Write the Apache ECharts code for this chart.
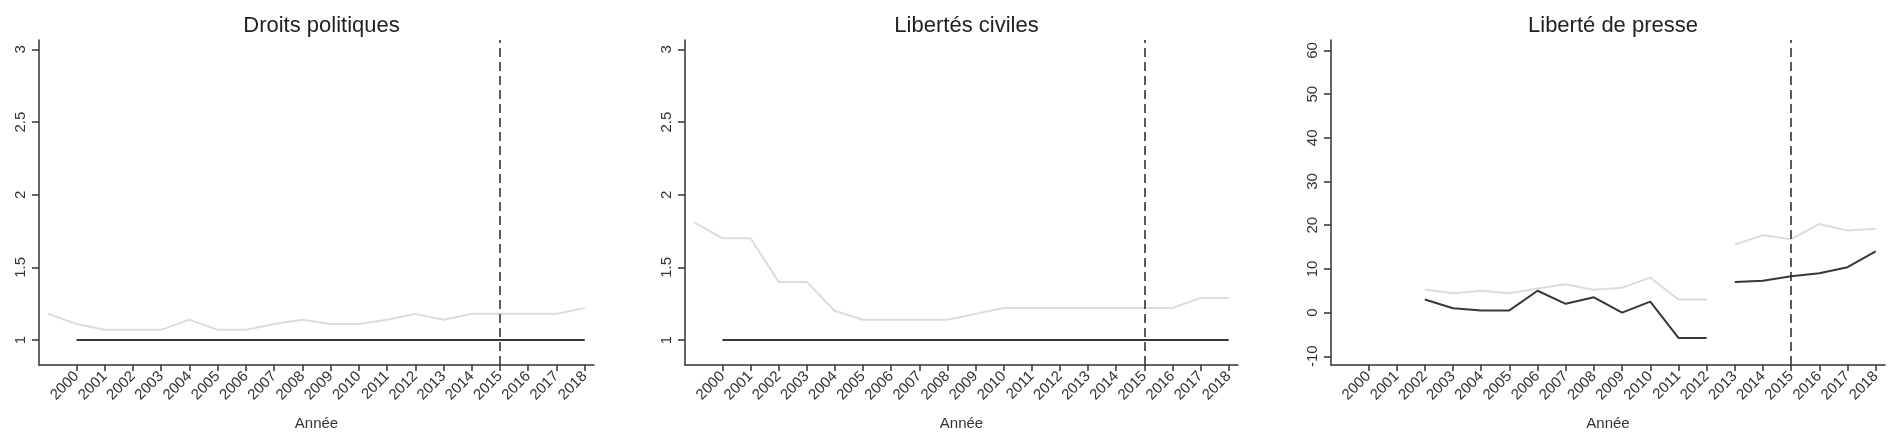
<!DOCTYPE html>
<html>
<head>
<meta charset="utf-8">
<script src="https://cdn.jsdelivr.net/npm/echarts@6/dist/echarts.min.js"></script>
<style>
  html, body { margin: 0; padding: 0; background: #fff; }
  #chart { width: 1893px; height: 447px; }
</style>
</head>
<body>
<div id="chart"></div>
<script>
// années (1999 sert seulement de point de départ de la courbe claire)
const years = [1999, 2000, 2001, 2002, 2003, 2004, 2005, 2006, 2007, 2008, 2009,
  2010, 2011, 2012, 2013, 2014, 2015, 2016, 2017, 2018]
const tickYears = [2000, 2001, 2002, 2003, 2004, 2005, 2006, 2007, 2008, 2009,
  2010, 2011, 2012, 2013, 2014, 2015, 2016, 2017, 2018]
const ratingTicks = [1, 1.5, 2, 2.5, 3]
const pressTicks = [-10, 0, 10, 20, 30, 40, 50, 60]
const titles = ['Droits politiques', 'Libertés civiles', 'Liberté de presse']
const cutYear = 2015
const breakYear = 2013 // la presse n'est pas reliée entre 2012 et 2013

// Droits politiques
const politicalLight = [1.18, 1.11, 1.07, 1.07, 1.07, 1.14, 1.07, 1.07, 1.11, 1.14,
  1.11, 1.11, 1.14, 1.18, 1.14, 1.18, 1.18, 1.18, 1.18, 1.22]
const politicalDark = [null, 1, 1, 1, 1, 1, 1, 1, 1, 1, 1, 1, 1, 1, 1, 1, 1, 1, 1, 1]
// Libertés civiles
const civilLight = [1.81, 1.70, 1.70, 1.40, 1.40, 1.20, 1.14, 1.14, 1.14, 1.14,
  1.18, 1.22, 1.22, 1.22, 1.22, 1.22, 1.22, 1.22, 1.29, 1.29]
const civilDark = [null, 1, 1, 1, 1, 1, 1, 1, 1, 1, 1, 1, 1, 1, 1, 1, 1, 1, 1, 1]
// Liberté de presse
const pressLight = [null, null, null, 5.3, 4.4, 5.0, 4.4, 5.5, 6.5, 5.2,
  5.7, 8.0, 3.0, 3.0, 15.6, 17.7, 16.8, 20.3, 18.8, 19.2]
const pressDark = [null, null, null, 3.0, 1.0, 0.5, 0.5, 5.0, 2.0, 3.5,
  0.0, 2.5, -5.8, -5.8, 7.0, 7.3, 8.3, 9.0, 10.4, 14.0]

const chart = echarts.init(document.getElementById('chart'))

const DARK = '#383838'
const LIGHT = '#dcdcdc'
const FONT = 'Liberation Sans, Arial, sans-serif'

// position des trois panneaux
const panels = [
  { left: 39, width: 555, yMin: 0.828, yMax: 3.065, ticks: ratingTicks },
  { left: 685, width: 553, yMin: 0.828, yMax: 3.065, ticks: ratingTicks },
  { left: 1331, width: 554, yMin: -12, yMax: 62.4, ticks: pressTicks }
]

const pairs = (vals, test) => years.map((y, i) => [y, test(y) ? vals[i] : null])

function lineSeries (idx, vals, color, test) {
  return {
    type: 'line',
    xAxisIndex: idx,
    yAxisIndex: idx,
    data: pairs(vals, test || (() => true)),
    showSymbol: false,
    connectNulls: false,
    silent: true,
    lineStyle: { color: color, width: 2 },
    z: color === DARK ? 3 : 2
  }
}

const series = []
series.push(lineSeries(0, politicalLight, LIGHT))
series.push(lineSeries(0, politicalDark, DARK))
series.push(lineSeries(1, civilLight, LIGHT))
series.push(lineSeries(1, civilDark, DARK))
series.push(lineSeries(2, pressLight, LIGHT, y => y < breakYear))
series.push(lineSeries(2, pressLight, LIGHT, y => y >= breakYear))
series.push(lineSeries(2, pressDark, DARK, y => y < breakYear))
series.push(lineSeries(2, pressDark, DARK, y => y >= breakYear))

// ligne verticale pointillée en 2015
for (let i = 0; i < 3; i++) {
  series.push({
    type: 'line',
    xAxisIndex: i,
    yAxisIndex: i,
    data: [],
    markLine: {
      silent: true,
      symbol: 'none',
      label: { show: false },
      lineStyle: { color: '#333', width: 1.6, type: [9, 5] },
      data: [{ xAxis: cutYear }]
    }
  })
}

const option = {
  animation: false,
  backgroundColor: '#fff',
  title: panels.map((p, i) => ({
    text: titles[i],
    left: p.left + p.width / 2,
    textAlign: 'center',
    top: 10,
    textStyle: { fontFamily: FONT, fontSize: 22, fontWeight: 'normal', color: '#222' }
  })),
  grid: panels.map(p => ({ left: p.left, width: p.width, top: 40, height: 325 })),
  xAxis: panels.map((p, i) => ({
    type: 'value',
    gridIndex: i,
    min: 1998.67,
    max: 2018.33,
    name: 'Année',
    nameLocation: 'middle',
    nameGap: 51,
    nameTextStyle: { fontFamily: FONT, fontSize: 15, color: '#333' },
    axisLine: { onZero: false, lineStyle: { color: '#333', width: 1.5 } },
    axisTick: { customValues: tickYears, length: 6, lineStyle: { color: '#333', width: 1.5 } },
    axisLabel: {
      customValues: tickYears,
      rotate: 45,
      margin: 9,
      fontFamily: FONT,
      fontSize: 15,
      color: '#333',
      formatter: v => String(v)
    },
    splitLine: { show: false }
  })),
  yAxis: panels.map((p, i) => ({
    type: 'value',
    gridIndex: i,
    min: p.yMin,
    max: p.yMax,
    axisLine: { show: true, onZero: false, lineStyle: { color: '#333', width: 1.5 } },
    axisTick: { show: true, customValues: p.ticks, length: 7, lineStyle: { color: '#333', width: 1.5 } },
    axisLabel: {
      customValues: p.ticks,
      rotate: 90,
      margin: 11,
      fontFamily: FONT,
      fontSize: 15,
      color: '#333',
      formatter: v => String(v)
    },
    splitLine: { show: false }
  })),
  series: series
}

chart.setOption(option)
</script>
</body>
</html>
